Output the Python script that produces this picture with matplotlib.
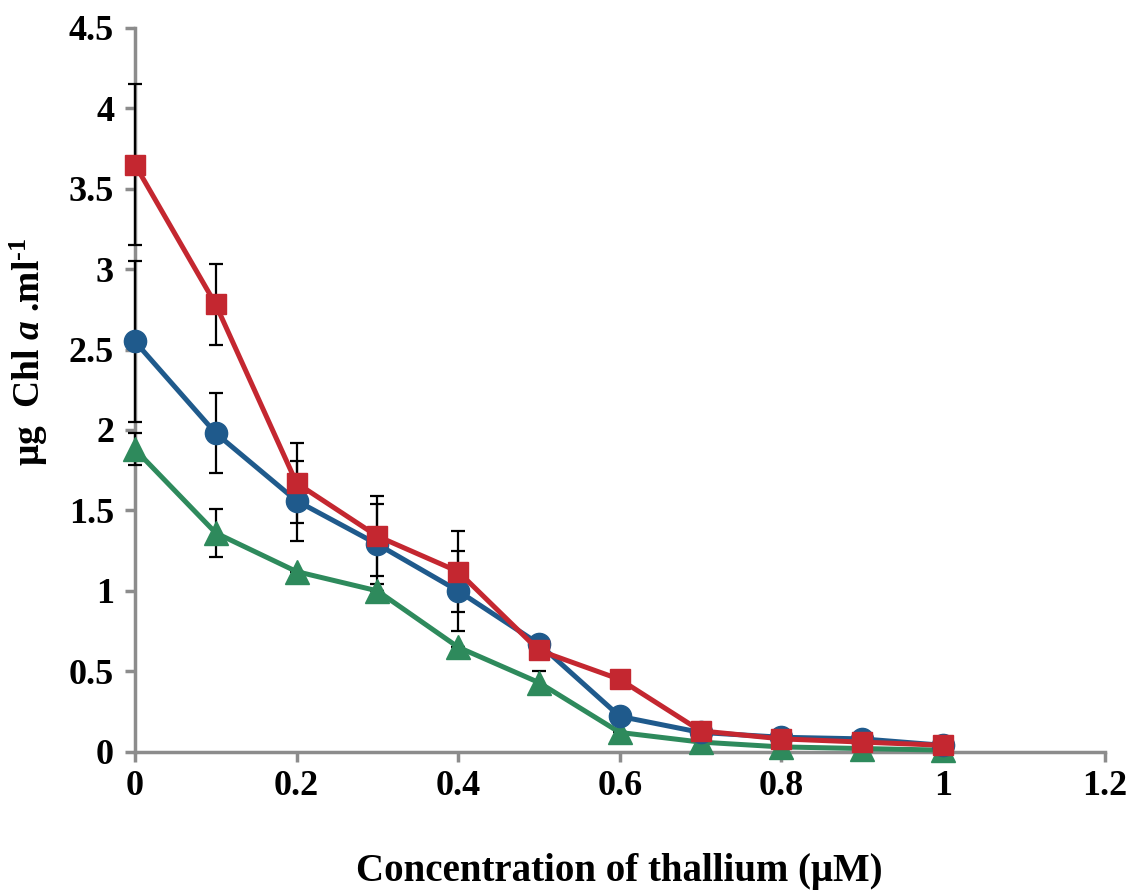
import matplotlib.pyplot as plt

plt.rcParams['font.family'] = ['Liberation Serif', 'DejaVu Serif']
plt.rcParams['font.weight'] = 'bold'
plt.rcParams['mathtext.fontset'] = 'custom'
plt.rcParams['mathtext.rm'] = 'Liberation Serif:bold'
plt.rcParams['mathtext.it'] = 'Liberation Serif:italic:bold'
plt.rcParams['mathtext.bf'] = 'Liberation Serif:bold'

conc = [0, 0.1, 0.2, 0.3, 0.4, 0.5, 0.6, 0.7, 0.8, 0.9, 1.0]

red_vals = [3.65, 2.78, 1.67, 1.34, 1.12, 0.63, 0.45, 0.13, 0.08, 0.06, 0.04]
red_err = [0.5, 0.25, 0.25, 0.25, 0.25, 0.0, 0.0, 0.0, 0.0, 0.0, 0.0]

blue_vals = [2.55, 1.98, 1.56, 1.29, 1.00, 0.67, 0.22, 0.12, 0.09, 0.08, 0.04]
blue_err = [0.5, 0.25, 0.25, 0.25, 0.25, 0.0, 0.0, 0.0, 0.0, 0.0, 0.0]

green_vals = [1.88, 1.36, 1.12, 1.00, 0.65, 0.43, 0.12, 0.06, 0.03, 0.02, 0.01]
green_err = [0.1, 0.15, 0.0, 0.0, 0.0, 0.07, 0.0, 0.0, 0.0, 0.0, 0.0]

series = [
    (blue_vals, blue_err, '#1f5a8c', 'o', 16),
    (red_vals, red_err, '#c42730', 's', 15),
    (green_vals, green_err, '#2e8a5c', '^', 17),
]

fig = plt.figure(figsize=(11.34, 8.96), dpi=100)
ax = fig.add_axes([0.119, 0.161, 0.855, 0.808])

for vals, err, col, mk, ms in series:
    ax.errorbar(conc, vals, yerr=err, fmt='none', ecolor='black',
                elinewidth=1.6, capsize=5, capthick=1.6, zorder=3, clip_on=False)
for vals, err, col, mk, ms in [series[2], series[0], series[1]]:
    ax.plot(conc, vals, color=col, marker=mk, lw=3.6, markersize=ms,
            zorder=4, clip_on=False)

ax.set_xlim(0, 1.2)
ax.set_ylim(0, 4.5)
ax.set_xticks([0, 0.2, 0.4, 0.6, 0.8, 1.0, 1.2])
ax.set_xticklabels(['0', '0.2', '0.4', '0.6', '0.8', '1', '1.2'])
ax.set_yticks([0, 0.5, 1, 1.5, 2, 2.5, 3, 3.5, 4, 4.5])
ax.set_yticklabels(['0', '0.5', '1', '1.5', '2', '2.5', '3', '3.5', '4', '4.5'])

for s in ['top', 'right']:
    ax.spines[s].set_visible(False)
for s in ['left', 'bottom']:
    ax.spines[s].set_color('#8c8c8c')
    ax.spines[s].set_linewidth(2.5)
ax.tick_params(axis='both', colors='#8c8c8c', width=2.5, length=7,
               labelsize=26, labelcolor='black')
ax.tick_params(axis='x', pad=6)
ax.tick_params(axis='y', pad=8)

ax.set_xlabel('Concentration of thallium (μM)', fontsize=28,
              fontweight='bold', labelpad=36)
ax.set_ylabel(r'μg  Chl $\mathit{a}$ .ml$^{\text{-1}}$', fontsize=27,
              fontweight='bold')
ax.yaxis.set_label_coords(-0.088, 0.553)

fig.savefig('out.png', dpi=100)
